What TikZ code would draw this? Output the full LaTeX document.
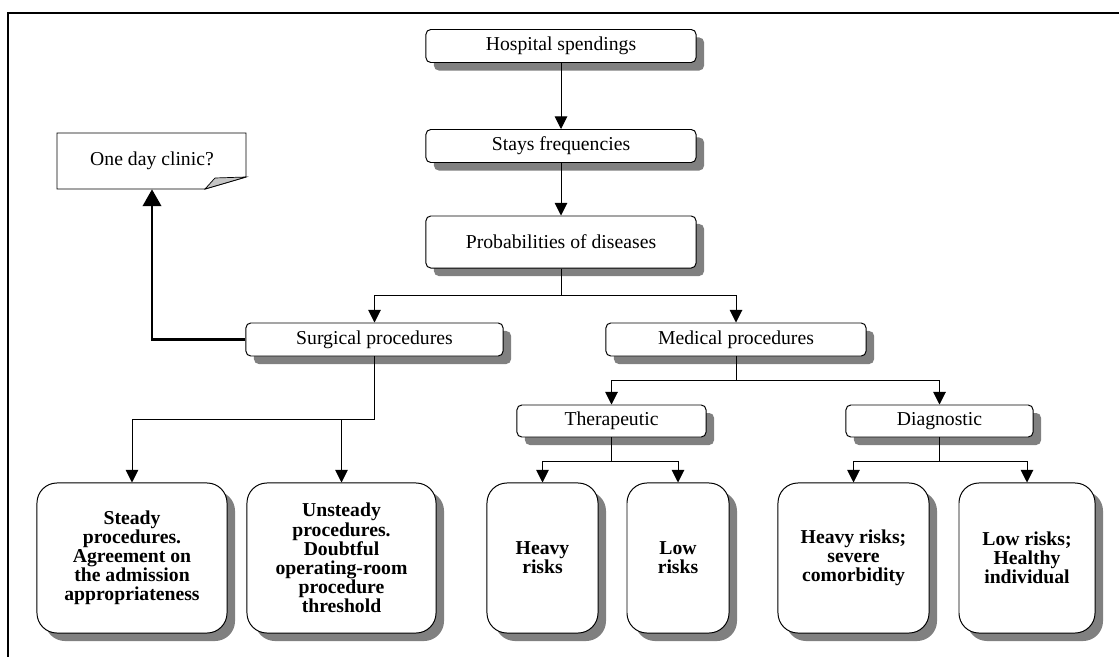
\documentclass[tikz,border=0pt]{standalone}
\usepackage{fontspec}
\setmainfont{Liberation Serif}
\usepackage{xcolor}
\usepackage{tikz}
\usetikzlibrary{shadows, arrows.meta, positioning}
\tikzstyle{box} = [rectangle, rounded corners=0.12cm, inner sep=0pt, minimum height=0.825cm, text centered, draw=black, line width=0.7pt, fill=white, font=\fontsize{14pt}{13.5pt}\selectfont, drop shadow={shadow xshift=0.2cm, shadow yshift=-0.2cm, fill=gray, opacity=1}]
\tikzstyle{leaf} = [box, rounded corners=0.5cm, minimum height=3.75cm, align=center, font=\fontsize{14pt}{13.6pt}\selectfont\bfseries]
\tikzstyle{arrow} = [line width=0.7pt, -{Triangle[width=9pt, length=9pt]}]
\tikzstyle{thickarrow} = [line width=2.1pt, -{Triangle[width=13pt, length=12pt]}]

\begin{document}
\begin{tikzpicture}[x=0.025cm, y=-0.025cm]
    \useasboundingbox (0,0) rectangle (1119,657);
    % Frame
    \draw[line width=1.4pt] (1119,13) -- (8,13) -- (8,657);

    % Nodes
    \node [box, minimum width=6.75cm] (spend) at (561,46) {Hospital spendings};
    \node [box, minimum width=6.75cm] (stays) at (561,146) {Stays frequencies};
    \node [box, minimum width=6.75cm, minimum height=1.3cm] (prob) at (561,242) {Probabilities of diseases};
    \node [box, minimum width=6.425cm] (surg) at (374.5,339.5) {Surgical procedures};
    \node [box, minimum width=6.5cm] (med) at (736,339.5) {Medical procedures};
    \node [box, minimum width=4.725cm, minimum height=0.8cm] (thera) at (611.5,421) {Therapeutic};
    \node [box, minimum width=4.675cm, minimum height=0.8cm] (diag) at (939.5,421) {Diagnostic};
    \node [leaf, minimum width=4.75cm] (steady) at (132,558) {Steady\\procedures.\\Agreement on\\the admission\\appropriateness};
    \node [leaf, minimum width=4.725cm] (unsteady) at (341.5,558) {Unsteady\\procedures.\\Doubtful\\operating-room\\procedure\\threshold};
    \node [leaf, minimum width=2.775cm] (heavy) at (542.5,558) {Heavy\\risks};
    \node [leaf, minimum width=2.55cm] (low) at (678,558) {Low\\risks};
    \node [leaf, minimum width=3.775cm] (severe) at (853.5,558) {Heavy risks;\\severe\\comorbidity};
    \node [leaf, minimum width=3.4cm] (healthy) at (1027,558) {Low risks;\\Healthy\\individual};

    % Note
    \draw[line width=0.7pt, fill=white] (57,133) -- (246,133) -- (246,177) -- (205,189) -- (57,189) -- cycle;
    \draw[line width=0.5pt, fill=gray!45] (246,177) -- (215,178) -- (205,189) -- cycle;
    \node [minimum width=1.5cm, minimum height=1.4cm, inner sep=0pt, font=\fontsize{14pt}{13.5pt}\selectfont] (clinic) at (152,161) {One day clinic?};

    % Arrows
    \draw [arrow] (spend) -- (stays);
    \draw [arrow] (stays) -- (prob);
    \draw [arrow] (prob.south) -- ++(0,27) -| (surg.north);
    \draw [arrow] (prob.south) -- ++(0,27) -| (med.north);
    \draw [arrow] (surg.south) -- ++(0,63) -| (steady.north);
    \draw [arrow] (surg.south) -- ++(0,63) -| (unsteady.north);
    \draw [arrow] (med.south) -- ++(0,24) -| (thera.north);
    \draw [arrow] (med.south) -- ++(0,24) -| (diag.north);
    \draw [arrow] (thera.south) -- ++(0,24) -| (heavy.north);
    \draw [arrow] (thera.south) -- ++(0,24) -| (low.north);
    \draw [arrow] (diag.south) -- ++(0,24) -| (severe.north);
    \draw [arrow] (diag.south) -- ++(0,24) -| (healthy.north);
    \draw [thickarrow] (surg.west) -| (clinic.south);
\end{tikzpicture}
\end{document}
